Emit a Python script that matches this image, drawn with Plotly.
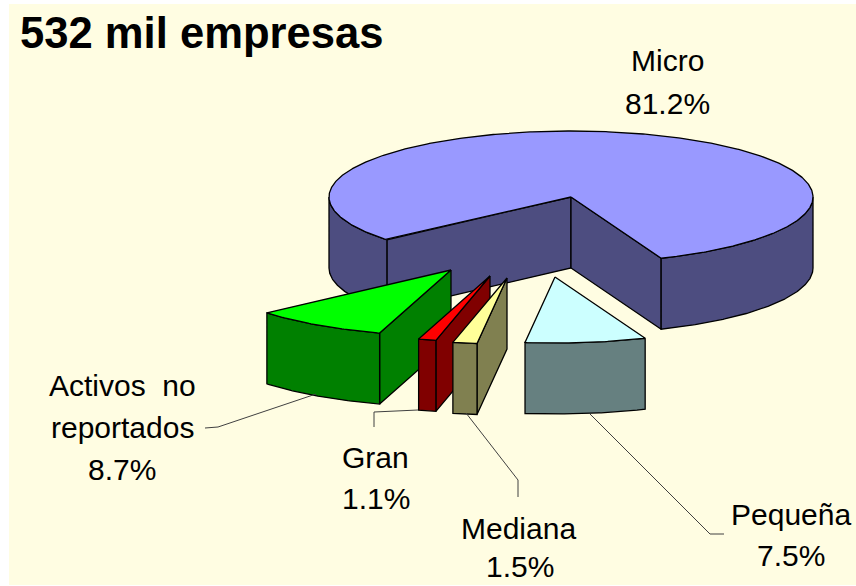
import math
import plotly.graph_objects as go

title = "532 mil empresas"
categories = ["Micro", "Pequeña", "Mediana", "Gran", "Activos no reportados"]
values = [81.2, 7.5, 1.5, 1.1, 8.7]

# Style / layout, kept apart from the data
start_angle = 69.6  # where Pequeña starts, degrees clockwise from +x on screen
perspective = 2.26  # degrees of angular stretch towards the viewer
order_from_start = ["Pequeña", "Mediana", "Gran", "Activos no reportados", "Micro"]
rx, ry, depth = 242, 66, 71
apex = {"Micro": (571, 197), "Pequeña": (555, 277), "Mediana": (507, 278),
        "Gran": (490, 276), "Activos no reportados": (451, 270)}
top_col = {"Micro": "#9999FF", "Pequeña": "#CCFFFF", "Mediana": "#FFFF99",
           "Gran": "#FF0000", "Activos no reportados": "#00FF00"}
side_col = {"Micro": "#4D4D80", "Pequeña": "#668080", "Mediana": "#808050",
            "Gran": "#800000", "Activos no reportados": "#008000"}
draw_order = ["Micro", "Activos no reportados", "Gran", "Mediana", "Pequeña"]
bg = "#FFFDE2"


def warp(a):
    return a - perspective * math.sin(math.radians(2 * a))


# Angular spans come from the values
span = {}
a = start_angle
for name in order_from_start:
    v = values[categories.index(name)]
    span[name] = (warp(a), warp(a + v * 3.6))
    a += v * 3.6


def pt(c, ang, dz=0):
    r = math.radians(ang)
    return c[0] + rx * math.cos(r), c[1] + ry * math.sin(r) + dz


def arc(c, a0, a1, dz=0):
    n = max(2, int(abs(a1 - a0)) * 2 + 1)
    return [pt(c, a0 + (a1 - a0) * i / (n - 1), dz) for i in range(n)]


def poly(points, fill, line="#000000"):
    xs = [p[0] for p in points] + [points[0][0]]
    ys = [p[1] for p in points] + [points[0][1]]
    return go.Scatter(x=xs, y=ys, mode="lines", fill="toself", fillcolor=fill,
                      line=dict(color=line, width=1.3), hoverinfo="skip", showlegend=False)


def line(points, color="#404040", width=1):
    return go.Scatter(x=[p[0] for p in points], y=[p[1] for p in points], mode="lines",
                      line=dict(color=color, width=width), hoverinfo="skip", showlegend=False)


fig = go.Figure()
for name in draw_order:
    c = apex[name]
    a0, a1 = span[name]
    side = side_col[name]
    # cut walls
    for edge, normal in ((a0, a0 - 90), (a1, a1 + 90)):
        if math.sin(math.radians(normal)) > 0:
            e = pt(c, edge)
            fig.add_trace(poly([c, e, (e[0], e[1] + depth), (c[0], c[1] + depth)], side))
    # outer wall: only the parts that face the viewer
    for k in range(0, 2):
        lo = max(a0, 360 * k)
        hi = min(a1, 180 + 360 * k)
        if hi > lo:
            fig.add_trace(poly(arc(c, lo, hi) + arc(c, hi, lo, depth), side))
    # top
    fig.add_trace(poly([c] + arc(c, a0, a1), top_col[name]))

# leader lines
leaders = [
    [(205, 428), (218, 427), (316, 394)],
    [(374, 427), (374, 412), (418, 410)],
    [(466, 413), (518, 480), (518, 497)],
    [(590, 414), (710, 534), (724, 534)],
]
for l in leaders:
    fig.add_trace(line(l))

pct = {n: f"{v}%" for n, v in zip(categories, values)}
labels = [
    ("Micro", 667, 60), (pct["Micro"], 667, 103),
    ("Pequeña", 791, 514), (pct["Pequeña"], 791, 555),
    ("Mediana", 518, 528), (pct["Mediana"], 520, 566),
    ("Gran", 375, 457), (pct["Gran"], 376, 498),
    ("Activos  no", 122, 385), ("reportados", 122, 427), (pct["Activos no reportados"], 122, 469),
]
font = "Liberation Sans, Arial, sans-serif"
anns = [dict(x=x, y=y, text=t, showarrow=False, xanchor="center", yanchor="middle",
             font=dict(family=font, size=30, color="#000000")) for t, x, y in labels]
anns.append(dict(x=18, y=33, text=f"<b>{title}</b>", showarrow=False, xanchor="left", yanchor="middle",
                 font=dict(family=font, size=43.6, color="#000000")))

fig.update_layout(
    width=856, height=586, autosize=False,
    margin=dict(l=9, r=0, t=4, b=1, pad=0),
    paper_bgcolor="#FFFFFF", plot_bgcolor=bg,
    showlegend=False, annotations=anns,
    xaxis=dict(range=[9, 856], visible=False, fixedrange=True),
    yaxis=dict(range=[585, 4], visible=False, fixedrange=True),
)
fig.write_html("out.html", config=dict(displayModeBar=False),
               post_script="document.body.style.margin='0';document.body.style.overflow='hidden';")
